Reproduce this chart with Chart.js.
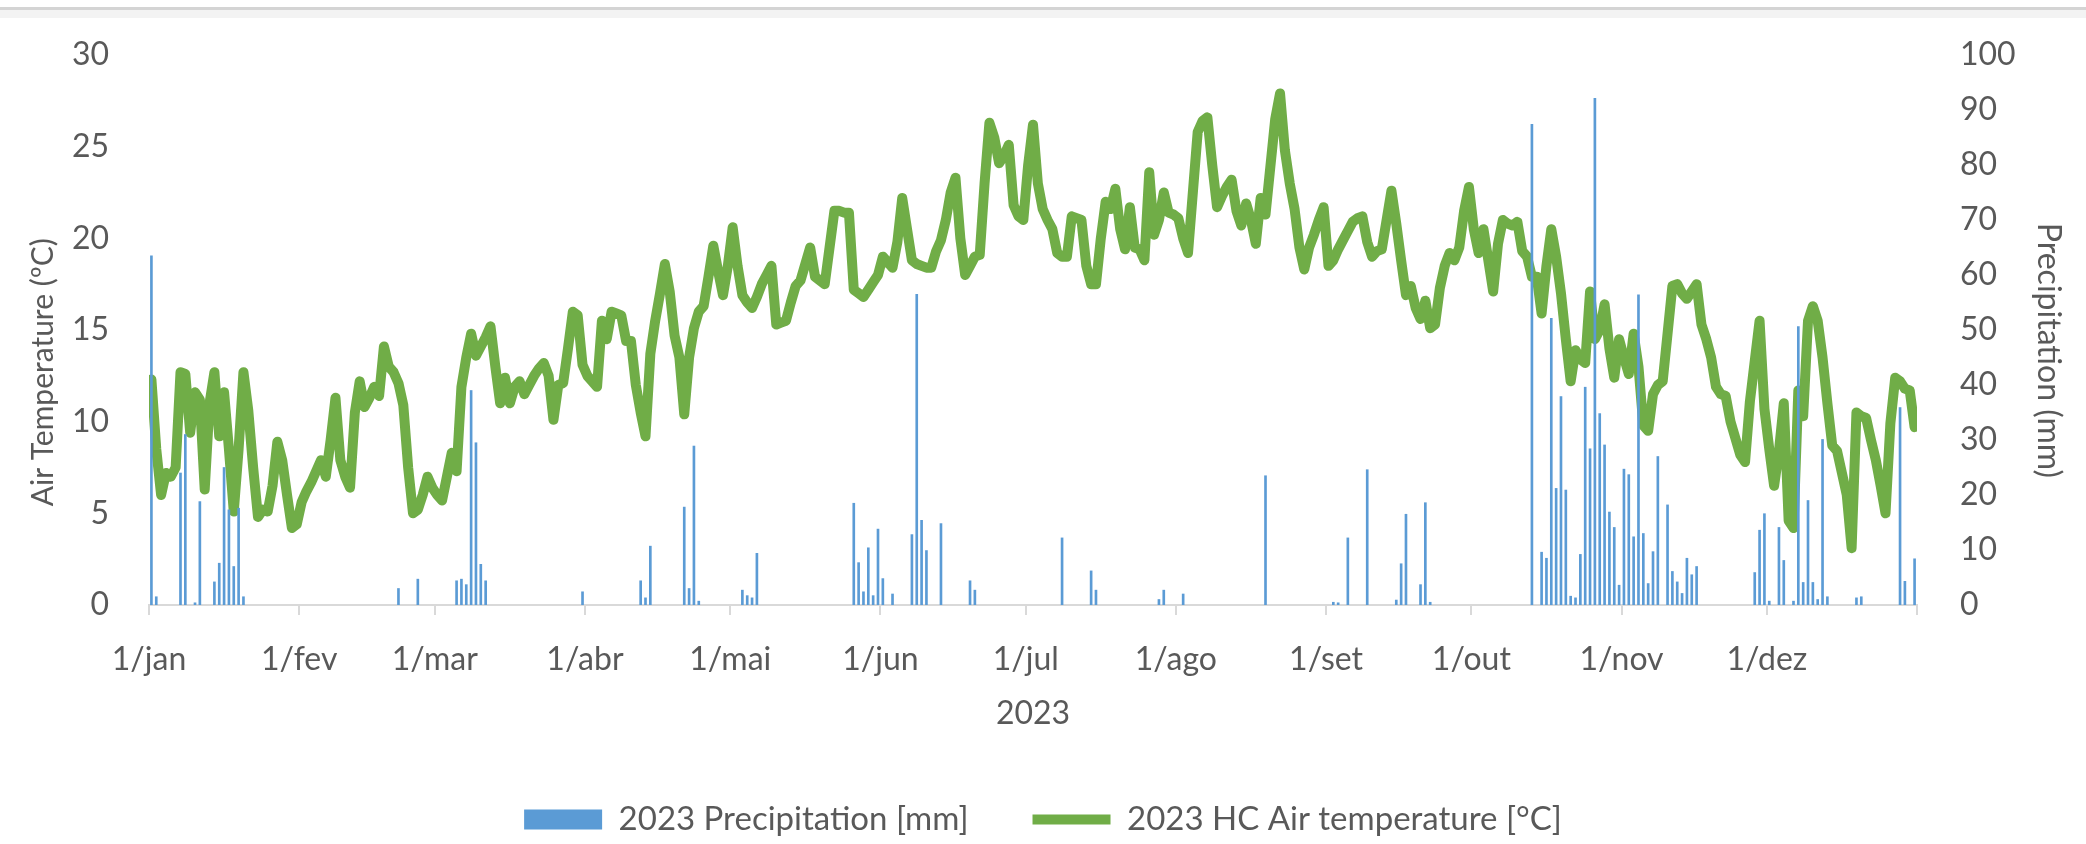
<!DOCTYPE html>
<html>
<head>
<meta charset="utf-8">
<script src="https://cdn.jsdelivr.net/npm/chart.js@4"></script>
<style>
  html, body { margin: 0; padding: 0; background: #fff; }
  #wrap { width: 2086px; height: 844px; }
</style>
</head>
<body>
<div id="wrap"><canvas id="climate" width="2086" height="844"></canvas></div>
<script>
// x axis: day boundaries where the month ticks sit, and their labels
const monthStart = [0, 31, 59, 90, 120, 151, 181, 212, 243, 273, 304, 334, 365];
const monthLabels = ['1/jan', '1/fev', '1/mar', '1/abr', '1/mai', '1/jun', '1/jul', '1/ago', '1/set', '1/out', '1/nov', '1/dez', ''];

// daily air temperature 2023 (°C), one value per day, month by month
const airTemp = [
  // jan
  12.3, 8.5, 6.0, 7.2, 7.0, 7.5, 12.7, 12.6, 9.4, 11.6, 11.2, 6.3, 11.0, 12.7, 9.2, 11.6,
  8.5, 5.1, 8.5, 12.7, 10.6, 7.5, 4.8, 5.2, 5.1, 6.5, 8.9, 7.9, 6.0, 4.2, 4.4,
  // fev
  5.6, 6.2, 6.7, 7.3, 7.9, 7.0, 9.0, 11.3, 7.9, 7.0, 6.4, 10.5, 12.2, 10.8,
  11.3, 11.9, 11.4, 14.1, 13.0, 12.7, 12.1, 10.9, 7.5, 5.0, 5.2, 6.0, 7.0, 6.4,
  // mar
  6.0, 5.7, 7.0, 8.3, 7.3, 11.9, 13.5, 14.8, 13.6, 14.1, 14.6, 15.2, 13.0, 11.0, 12.4, 11.0,
  11.9, 12.2, 11.5, 12.0, 12.5, 12.9, 13.2, 12.5, 10.1, 12.0, 12.1, 14.0, 16.0, 15.8, 13.1,
  // abr
  12.5, 12.2, 11.9, 15.5, 14.5, 16.0, 15.9, 15.8, 14.4, 14.4, 12.0, 10.5, 9.2, 13.7, 15.5,
  17.0, 18.6, 17.1, 14.7, 13.5, 10.4, 13.5, 15.1, 16.0, 16.3, 17.9, 19.6, 18.2, 16.9, 18.5,
  // mai
  20.6, 18.5, 16.9, 16.5, 16.2, 16.8, 17.5, 18.0, 18.5, 15.3, 15.4, 15.5, 16.5, 17.4, 17.7, 18.6,
  19.5, 17.9, 17.7, 17.5, 19.5, 21.5, 21.5, 21.4, 21.4, 17.2, 17.0, 16.8, 17.2, 17.6, 18.0,
  // jun
  19.0, 18.7, 18.4, 19.8, 22.2, 20.5, 18.8, 18.6, 18.5, 18.4, 18.4, 19.3, 19.9, 21.0, 22.5,
  23.3, 20.0, 18.0, 18.5, 19.0, 19.1, 23.0, 26.3, 25.5, 24.1, 24.5, 25.1, 21.8, 21.2, 21.0,
  // jul
  24.0, 26.2, 23.0, 21.6, 21.0, 20.5, 19.2, 19.0, 19.0, 21.2, 21.1, 21.0, 18.5, 17.5, 17.5, 20.0,
  22.0, 21.6, 22.7, 20.5, 19.4, 21.7, 19.5, 19.4, 18.8, 23.6, 20.2, 21.0, 22.5, 21.4, 21.3,
  // ago
  21.1, 20.0, 19.2, 22.5, 25.8, 26.4, 26.6, 24.0, 21.7, 22.3, 22.8, 23.2, 21.5, 20.7, 21.9, 21.0,
  19.7, 22.2, 21.3, 23.9, 26.5, 27.9, 24.8, 23.0, 21.6, 19.5, 18.3, 19.5, 20.2, 21.0, 21.7,
  // set
  18.5, 18.8, 19.4, 19.9, 20.4, 20.9, 21.1, 21.2, 19.8, 19.0, 19.3, 19.4, 21.0, 22.6, 20.8,
  18.8, 16.9, 17.4, 16.2, 15.6, 16.6, 15.1, 15.3, 17.3, 18.5, 19.2, 18.8, 19.5, 21.5, 22.8,
  // out
  20.5, 19.2, 20.5, 18.8, 17.1, 19.7, 21.0, 20.8, 20.7, 20.9, 19.3, 19.0, 17.9, 17.9, 15.9, 18.5,
  20.5, 19.0, 17.0, 14.5, 12.2, 13.9, 13.4, 13.2, 17.1, 14.5, 15.0, 16.4, 14.0, 12.4, 14.5,
  // nov
  13.5, 12.6, 14.8, 13.0, 9.8, 9.5, 11.5, 12.0, 12.2, 14.8, 17.4, 17.5, 17.0, 16.7, 17.1,
  17.5, 15.3, 14.5, 13.5, 11.9, 11.5, 11.4, 10.0, 9.1, 8.2, 7.8, 11.1, 13.3, 15.5, 10.7,
  // dez
  8.5, 6.5, 8.4, 11.0, 4.6, 4.2, 11.7, 10.3, 15.5, 16.3, 15.5, 13.5, 11.0, 8.7, 8.4, 7.2,
  6.0, 3.1, 10.5, 10.3, 10.2, 9.0, 7.9, 6.5, 5.0, 9.9, 12.4, 12.2, 11.8, 11.7, 9.7
];

// rainy days (day of year, 0 = 1/jan) and precipitation (mm)
const rainDay = [
  0, 1, 6, 7, 9, 10, 13, 14, 15, 16, 17, 18, 19, 51, 55,
  63, 64, 65, 66, 67, 68, 69, 89, 101, 102, 103, 110, 111, 112, 113,
  122, 123, 124, 125, 145, 146, 147, 148, 149, 150, 151, 153,
  157, 158, 159, 160, 163, 169, 170, 188, 194, 195, 208, 209, 213, 230,
  244, 245, 247, 251, 257, 258, 259, 262, 263, 264,
  285, 287, 288, 289, 290, 291, 292, 293, 294, 295, 296, 297, 298, 299, 300, 301, 302, 303,
  304, 305, 306, 307, 308, 309, 310, 311, 313, 314, 315, 316, 317, 318, 319,
  331, 332, 333, 334, 336, 337, 339, 340, 341, 342, 343, 344, 345, 346, 352, 353, 361, 362, 364
];
const rainMm = [
  63.5, 1.5, 24.0, 31.0, 0.4, 18.8, 4.2, 7.6, 25.0, 17.3, 7.0, 17.6, 1.5, 3.0, 4.7,
  4.4, 4.7, 3.7, 39.0, 29.5, 7.4, 4.4, 2.4, 4.4, 1.3, 10.7, 17.8, 3.0, 28.9, 0.7,
  2.7, 1.7, 1.3, 9.4, 18.5, 7.7, 2.4, 10.4, 1.7, 13.8, 4.8, 2.0,
  12.8, 56.5, 15.4, 9.9, 14.8, 4.4, 2.7, 12.2, 6.2, 2.7, 1.0, 2.7, 2.0, 23.5,
  0.5, 0.4, 12.2, 24.6, 0.9, 7.5, 16.5, 3.7, 18.6, 0.5,
  87.4, 9.6, 8.5, 52.1, 21.2, 37.9, 20.9, 1.6, 1.3, 9.2, 39.6, 28.4, 92.1, 34.8, 29.1, 16.9, 14.1, 3.6,
  24.7, 23.7, 12.4, 56.4, 13.0, 3.9, 9.7, 27.0, 18.2, 6.1, 4.2, 2.1, 8.5, 5.5, 7.0,
  5.9, 13.6, 16.6, 0.7, 14.1, 8.1, 0.7, 50.6, 4.1, 19.0, 4.1, 1.0, 30.1, 1.5, 1.3, 1.5, 35.9, 4.3, 8.4
];

const textColor = '#595959';
const fontFamily = 'Lato, "Liberation Sans", sans-serif';
const font = { family: fontFamily, size: 32 };

const frameLine = {
  id: 'frameLine',
  beforeDraw(chart) {
    const c = chart.ctx;
    c.save();
    c.fillStyle = '#ffffff';
    c.fillRect(0, 0, chart.width, chart.height);
    c.fillStyle = '#f3f3f3';
    c.fillRect(0, 10, chart.width, 8);
    c.fillStyle = '#d4d4d4';
    c.fillRect(0, 7, chart.width, 3);
    c.restore();
  }
};

new Chart(document.getElementById('climate'), {
  data: {
    datasets: [{
      type: 'bar',
      label: '2023 Precipitation [mm]',
      data: rainDay.map((d, i) => ({ x: d + 0.5, y: rainMm[i] })),
      yAxisID: 'y1',
      backgroundColor: '#5b9bd5',
      barThickness: 2,
      pointStyle: 'rect'
    }, {
      type: 'line',
      label: '2023 HC Air temperature [°C]',
      data: airTemp.map((t, i) => ({ x: i + 0.5, y: t })),
      yAxisID: 'y',
      borderColor: '#70ad47',
      backgroundColor: '#70ad47',
      borderWidth: 10,
      borderJoinStyle: 'round',
      borderCapStyle: 'round',
      pointRadius: 0,
      tension: 0,
      pointStyle: 'line'
    }]
  },
  options: {
    responsive: false,
    animation: false,
    devicePixelRatio: 1,
    layout: { padding: { top: 55, left: 0, right: 0, bottom: 0 } },
    plugins: {
      tooltip: { enabled: false },
      legend: {
        position: 'bottom',
        maxHeight: 105,
        labels: {
          usePointStyle: true,
          pointStyleWidth: 78,
          boxHeight: 20,
          padding: 64,
          color: textColor,
          font: { family: fontFamily, size: 33 }
        }
      }
    },
    scales: {
      x: {
        type: 'linear',
        min: 0,
        max: 365,
        offset: false,
        afterBuildTicks: (s) => { s.ticks = monthStart.map(v => ({ value: v })); },
        afterFit: (s) => { s.height = 134; },
        ticks: {
          autoSkip: false,
          maxRotation: 0,
          padding: 25,
          color: textColor,
          font: font,
          callback: (v, i) => monthLabels[i]
        },
        grid: { drawOnChartArea: false, offset: false, tickLength: 10, color: '#d9d9d9', lineWidth: 2 },
        border: { color: '#d9d9d9', width: 2 },
        title: { display: true, text: '2023', color: textColor, font: font, padding: { top: 0, bottom: 6 } }
      },
      y: {
        position: 'left',
        min: 0,
        max: 30,
        afterFit: (s) => { s.width = 149; },
        ticks: { stepSize: 5, padding: 32, color: textColor, font: font },
        grid: { display: false },
        border: { display: false },
        // trailing spaces push the title a little below the middle, as in the original
        title: { display: true, text: 'Air Temperature (ºC)           ', color: textColor, font: { family: fontFamily, size: 30 }, padding: { top: 25, bottom: 0 } }
      },
      y1: {
        position: 'right',
        min: 0,
        max: 100,
        afterFit: (s) => { s.width = 169; },
        ticks: { stepSize: 10, padding: 35, color: textColor, font: font },
        grid: { display: false },
        border: { display: false },
        title: { display: true, text: '     Precipitation (mm)', color: textColor, font: font, padding: { top: 18, bottom: 0 } }
      }
    }
  },
  plugins: [frameLine]
});
</script>
</body>
</html>
